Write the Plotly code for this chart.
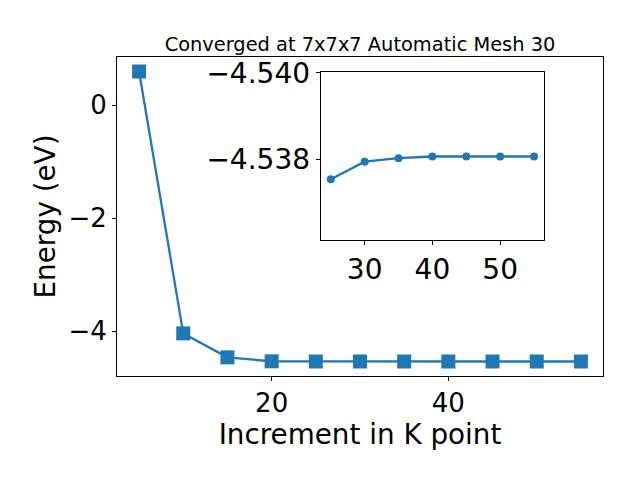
import plotly.graph_objects as go

k_main = [5, 10, 15, 20, 25, 30, 35, 40, 45, 50, 55]
e_main = [0.60, -4.04, -4.465, -4.535, -4.5375, -4.5379, -4.5380, -4.53806, -4.53806, -4.53806, -4.53806]

k_inset = [25, 30, 35, 40, 45, 50, 55]
e_inset = [-4.53753, -4.53794, -4.53802, -4.53806, -4.53806, -4.53806, -4.53806]

main_xticks = [20, 40]
main_yticks = [0, -2, -4]
main_yticklabels = ["0", "\u22122", "\u22124"]
inset_xticks = [30, 40, 50]
inset_yticks = [-4.540, -4.538]
inset_yticklabels = ["\u22124.540", "\u22124.538"]

title_text = "Converged at 7x7x7 Automatic Mesh 30"
xlabel = "Increment in K point"
ylabel = "Energy (eV)"

color = "#1f77b4"
font = "DejaVu Sans"

fig = go.Figure()
fig.add_trace(go.Scatter(
    x=k_main, y=e_main, mode="lines+markers",
    line=dict(color=color, width=2.3),
    marker=dict(symbol="square", size=14, color=color),
    xaxis="x", yaxis="y", showlegend=False,
))
fig.add_trace(go.Scatter(
    x=k_inset, y=e_inset, mode="lines+markers",
    line=dict(color=color, width=2.3),
    marker=dict(symbol="circle", size=8, color=color),
    xaxis="x2", yaxis="y2", showlegend=False,
))

axis_common = dict(
    showgrid=False, zeroline=False, showline=True, linecolor="black", linewidth=1,
    mirror=True, ticks="outside", ticklen=4, tickwidth=1, tickcolor="black",
)

fig.update_layout(
    width=640, height=480,
    margin=dict(l=109, r=45, t=49, b=112),
    paper_bgcolor="white", plot_bgcolor="white",
    font=dict(family=font, color="black"),
    title=dict(text=title_text, x=0.5, xref="paper", y=1, yref="paper",
               yanchor="bottom", pad=dict(b=6),
               font=dict(size=19.4, family=font, color="black")),
    xaxis=dict(domain=[0, 1], range=[2.5, 57.5], tickvals=main_xticks,
               tickfont=dict(size=26),
               title=dict(text=xlabel, font=dict(size=27.8), standoff=6),
               **axis_common),
    yaxis=dict(domain=[0, 1], range=[-4.795, 0.857], tickvals=main_yticks,
               ticktext=main_yticklabels,
               tickfont=dict(size=26),
               title=dict(text=ylabel, font=dict(size=27.8), standoff=4),
               **axis_common),
    xaxis2=dict(domain=[0.419, 0.879], anchor="y2", range=[23.5, 56.5],
                tickvals=inset_xticks, tickfont=dict(size=28), **axis_common),
    yaxis2=dict(domain=[0.426, 0.953], anchor="x2", range=[-4.53612, -4.54002],
                tickvals=inset_yticks, ticktext=inset_yticklabels,
                tickfont=dict(size=28), **axis_common),
)

fig.write_html("out.html")
